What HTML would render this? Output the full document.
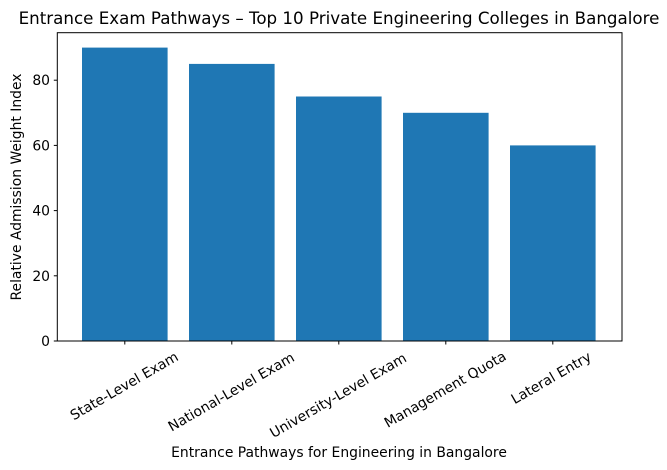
<!DOCTYPE html>
<html><head><style>body{margin:0;background:#fff}svg{display:block;font-family:"DejaVu Sans","Liberation Sans",sans-serif}</style></head>
<body>
<svg width="667" height="470" viewBox="0 0 667 470">
<rect width="667" height="470" fill="#fff"/>
<text x="339" y="24" font-size="16.7" text-anchor="middle">Entrance Exam Pathways – Top 10 Private Engineering Colleges in Bangalore</text>
<g fill="#1f77b4">
<rect x="82" y="47.6" width="85.6" height="293.4"/>
<rect x="189" y="63.9" width="85.6" height="277.1"/>
<rect x="296" y="96.5" width="85.6" height="244.5"/>
<rect x="403" y="112.8" width="85.6" height="228.2"/>
<rect x="510" y="145.4" width="85.6" height="195.6"/>
</g>
<rect x="57.3" y="32.7" width="564.7" height="308.3" fill="none" stroke="#000" stroke-width="1"/>
<g stroke="#000" stroke-width="1">
<line x1="53.8" x2="57.3" y1="341" y2="341"/><line x1="53.8" x2="57.3" y1="275.8" y2="275.8"/><line x1="53.8" x2="57.3" y1="210.6" y2="210.6"/><line x1="53.8" x2="57.3" y1="145.4" y2="145.4"/><line x1="53.8" x2="57.3" y1="80.2" y2="80.2"/>
<line x1="124.8" x2="124.8" y1="341" y2="344.5"/><line x1="231.8" x2="231.8" y1="341" y2="344.5"/><line x1="338.8" x2="338.8" y1="341" y2="344.5"/><line x1="445.8" x2="445.8" y1="341" y2="344.5"/><line x1="552.8" x2="552.8" y1="341" y2="344.5"/>
</g>
<g font-size="13.9" text-anchor="end">
<text x="50" y="346">0</text><text x="50" y="280.8">20</text><text x="50" y="215.6">40</text><text x="50" y="150.4">60</text><text x="50" y="85.2">80</text>
</g>
<g font-size="13.9" text-anchor="middle" dominant-baseline="central">
<text transform="translate(124.5,386.5) rotate(-30)">State-Level Exam</text>
<text transform="translate(231.5,392.5) rotate(-30)">National-Level Exam</text>
<text transform="translate(338.5,396) rotate(-30)">University-Level Exam</text>
<text transform="translate(445.5,390) rotate(-30)">Management Quota</text>
<text transform="translate(551.5,378.5) rotate(-30)">Lateral Entry</text>
</g>
<text x="339" y="457" font-size="13.9" text-anchor="middle">Entrance Pathways for Engineering in Bangalore</text>
<text transform="translate(21,187) rotate(-90)" font-size="13.9" text-anchor="middle">Relative Admission Weight Index</text>
</svg>
</body></html>
